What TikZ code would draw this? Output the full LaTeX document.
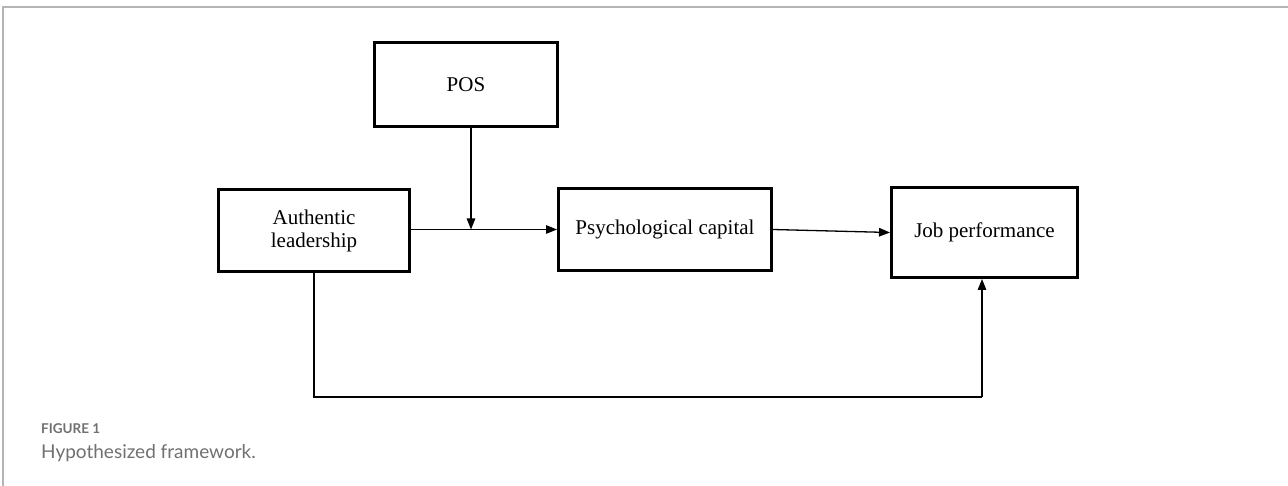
\documentclass[tikz,border=0pt]{standalone}
\usepackage{fontspec}
\setmainfont{Liberation Serif}
\newfontfamily\capfont{Lato}
\usetikzlibrary{arrows.meta}
\definecolor{capgray}{HTML}{707070}
\definecolor{framegray}{HTML}{B4B4B4}
\tikzset{
  vbox/.style={draw, rectangle, line width=3pt, align=center, inner sep=0pt,
    font=\fontsize{21}{20.5}\selectfont},
  conn/.style={line width=1.3pt},
  arr/.style={conn, -{Triangle[length=11pt,width=8.5pt]}},
}
\begin{document}
\begin{tikzpicture}[x=1pt,y=-1pt]
\path[use as bounding box] (0,0) rectangle (1288,486);
\draw[framegray, line width=1.5pt] (3,486) -- (3,7) -- (1288,7);
\node[vbox, minimum width=183pt, minimum height=84pt] (pos) at (466,84.5) {POS};
\node[vbox, minimum width=191pt, minimum height=82pt] (al) at (314,231) {Authentic\\[3pt]leadership};
\node[vbox, minimum width=213pt, minimum height=82pt] (pc) at (665,229.5) {Psychological capital};
\node[vbox, minimum width=186pt, minimum height=90pt] (jp) at (984.5,232.5) {Job performance};
\coordinate (mid) at (471,229.5);
\coordinate (bl) at (314,397);
\coordinate (br) at (982,397);
\draw[arr] (al.east |- mid) -- (pc.west);
\draw[arr] (pos.south -| mid) -- (mid);
\draw[arr] (pc.east) -- (jp.west);
\draw[conn] (al.south) -- (bl) -- (br);
\draw[arr] (br) -- (br |- jp.south);
\node[anchor=base west, inner sep=0pt, text=capgray, font=\capfont\bfseries\fontsize{13.5}{15}\selectfont] (fig) at (41,433) {FIGURE 1};
\node[anchor=base west, inner sep=0pt, text=capgray, font=\capfont\fontsize{19}{22}\selectfont] (cap) at (41,458) {Hypothesized framework.};
\end{tikzpicture}
\end{document}
